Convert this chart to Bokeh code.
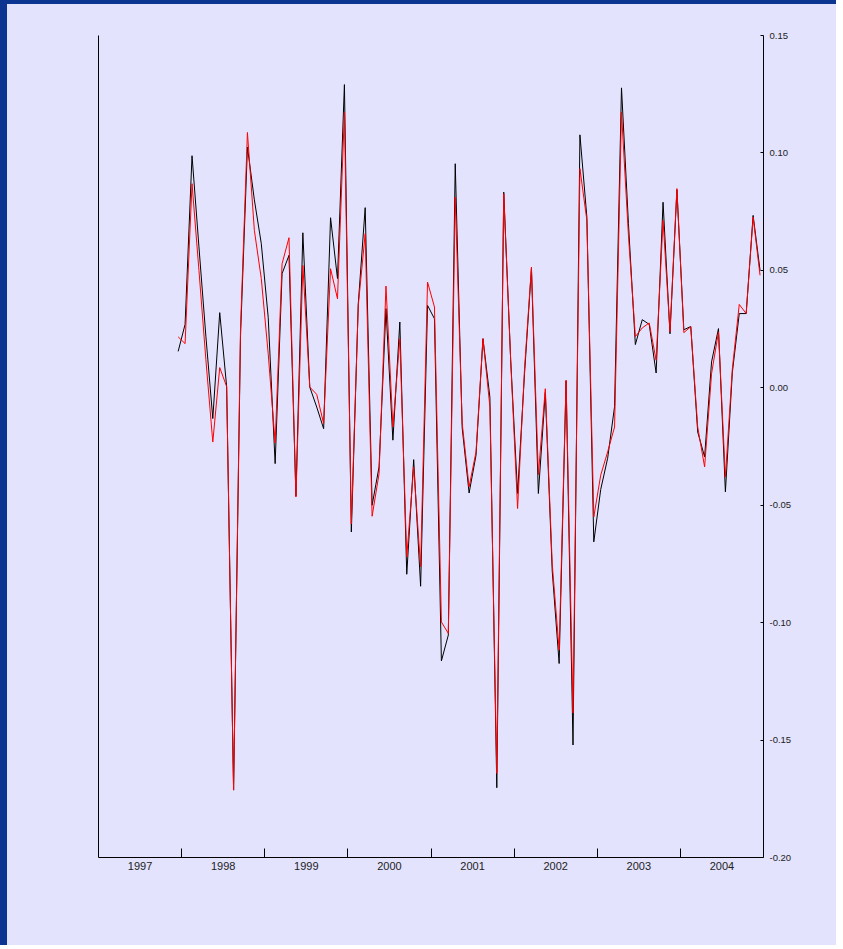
from bokeh.plotting import figure
from bokeh.models import Range1d, LinearAxis, FixedTicker, NumeralTickFormatter
from bokeh.embed import file_html
from bokeh.resources import INLINE

# ---- data (monthly, Dec 1997 .. Dec 2004) ----
start_year = 1997
start_month = 12
series_black = [
    0.0155, 0.027, 0.0988, 0.060, 0.022, -0.0131, 0.032, 0.0005, -0.1713, 0.022,
    0.1025, 0.080, 0.0614, 0.030, -0.0323, 0.0486, 0.0564, -0.046, 0.066, 0.0003,
    -0.0082, -0.0174, 0.0724, 0.0465, 0.1291, -0.0614, 0.0358, 0.0767, -0.050, -0.0337,
    0.0337, -0.0223, 0.028, -0.0794, -0.0306, -0.0845, 0.0351, 0.0294, -0.1163, -0.1053,
    0.0954, -0.017, -0.0448, -0.0287, 0.0209, -0.004, -0.1703, 0.0833, 0.012, -0.045,
    0.006, 0.0507, -0.045, -0.002, -0.078, -0.1174, 0.003, -0.1521, 0.1077, 0.0727,
    -0.0656, -0.0433, -0.030, -0.008, 0.1277, 0.070, 0.0184, 0.029, 0.027, 0.0063,
    0.079, 0.023, 0.0843, 0.0247, 0.0261, -0.0188, -0.0294, 0.011, 0.0252, -0.0443,
    0.0065, 0.0316, 0.0316, 0.0734, 0.050,
]
series_red = [
    0.0217, 0.0188, 0.0869, 0.050, 0.012, -0.0231, 0.0086, 0.0005, -0.1713, 0.025,
    0.1087, 0.067, 0.0465, 0.0145, -0.0235, 0.0528, 0.0639, -0.0465, 0.0521, 0.0003,
    -0.0028, -0.0152, 0.0507, 0.0379, 0.1174, -0.058, 0.0351, 0.0656, -0.0547, -0.0366,
    0.0433, -0.0167, 0.0209, -0.072, -0.0337, -0.0762, 0.045, 0.0344, -0.0997, -0.1046,
    0.0812, -0.015, -0.0422, -0.0273, 0.0209, -0.008, -0.1642, 0.0826, 0.012, -0.0514,
    0.008, 0.0514, -0.037, -0.0004, -0.075, -0.1117, 0.0032, -0.1384, 0.0933, 0.0713,
    -0.055, -0.0372, -0.0273, -0.0167, 0.1174, 0.065, 0.0218, 0.0255, 0.0276, 0.0117,
    0.0713, 0.0238, 0.0848, 0.0235, 0.026, -0.0167, -0.0337, 0.006, 0.0238, -0.038,
    0.008, 0.0355, 0.0316, 0.0727, 0.0479,
]
year_labels = ["1997", "1998", "1999", "2000", "2001", "2002", "2003", "2004"]
y_ticks = [-0.20, -0.15, -0.10, -0.05, 0.00, 0.05, 0.10, 0.15]

# time position of each month (mid-month)
t = []
for i in range(len(series_black)):
    m = start_month - 1 + i
    yr = start_year + m // 12
    mo = m % 12 + 1
    t.append(yr + (mo - 0.5) / 12.0)

BG = "#e3e3fd"
BLUE = "#0c3491"
TXT = "#222222"
FONT = "Liberation Sans"

p = figure(width=836, height=945, output_backend="svg", toolbar_location=None,
           x_range=Range1d(int(year_labels[0]), int(year_labels[-1]) + 1),
           y_range=Range1d(y_ticks[0], y_ticks[-1]),
           x_axis_location="below", y_axis_location="right",
           min_border_left=91, min_border_top=31, min_border_right=80, min_border_bottom=92)
# dark blue strips along the left and top edges
p.styles = {"border-left": f"7px solid {BLUE}", "border-top": f"4px solid {BLUE}",
            "background-color": BG}
p.background_fill_color = BG
p.border_fill_color = BG
p.outline_line_color = None
p.grid.visible = False

p.line(t, series_black, line_color="black", line_width=1)
p.line(t, series_red, line_color="red", line_width=1)

# bottom axis: labels centred in each year, tick marks at year boundaries
xa = p.xaxis[0]
yrs = [int(y) for y in year_labels]
xa.ticker = FixedTicker(ticks=[y + 0.5 for y in yrs], minor_ticks=yrs[1:])
xa.major_label_overrides = {y + 0.5: lab for y, lab in zip(yrs, year_labels)}
xa.major_tick_in = 0
xa.major_tick_out = 0
xa.minor_tick_in = 9
xa.minor_tick_out = 0
xa.minor_tick_line_color = "black"
xa.axis_line_color = "black"
xa.major_label_text_font = FONT
xa.major_label_text_font_size = "11px"
xa.major_label_text_color = TXT
xa.major_label_standoff = 4

# right axis
ya = p.yaxis[0]
ya.ticker = FixedTicker(ticks=y_ticks, minor_ticks=[])
ya.formatter = NumeralTickFormatter(format="0.00")
ya.major_tick_in = 3
ya.major_tick_out = 0
ya.major_tick_line_color = "black"
ya.axis_line_color = "black"
ya.major_label_text_font = FONT
ya.major_label_text_font_size = "9.5px"
ya.major_label_text_color = TXT
ya.major_label_standoff = 6

# plain left axis line
la = LinearAxis(ticker=FixedTicker(ticks=[], minor_ticks=[]), axis_line_color="black",
                major_tick_in=0, major_tick_out=0, major_label_text_font_size="0px")
p.add_layout(la, "left")

open("out.html", "w").write(file_html(p, INLINE))
